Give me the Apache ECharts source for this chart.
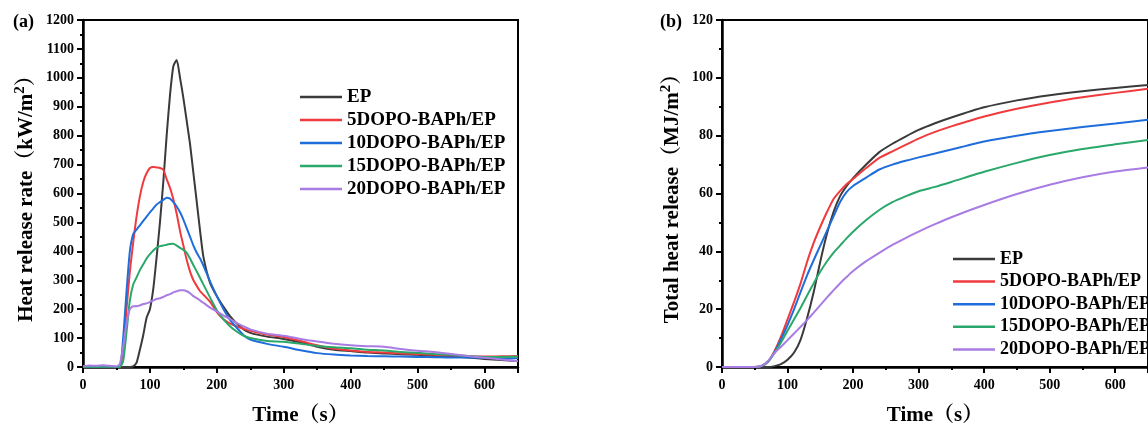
<!DOCTYPE html>
<html>
<head>
<meta charset="utf-8">
<script src="https://cdn.jsdelivr.net/npm/echarts@6/dist/echarts.min.js"></script>
<style>
  html, body { margin: 0; padding: 0; background: #fff; }
  #chart { width: 1148px; height: 431px; }
</style>
</head>
<body>
<div id="chart"></div>
<script>
// sample names and colours
const names = ['EP', '5DOPO-BAPh/EP', '10DOPO-BAPh/EP', '15DOPO-BAPh/EP', '20DOPO-BAPh/EP']
const colors = ['#3a3a3a', '#ef3a3e', '#1f6ddb', '#2aa86b', '#a87ce3']

// (a) heat release rate, kW/m2
const timeHRR = [0, 10, 20, 30, 40, 50, 55, 60, 65, 70, 75, 80, 85, 90, 95, 100, 105, 110, 115, 120, 125, 130, 135, 140, 145, 150, 155, 160, 165, 170, 175, 180, 190, 200, 210, 220, 230, 240, 250, 275, 300, 325, 350, 375, 400, 425, 450, 475, 500, 525, 550, 575, 600, 625, 650]
const hrrEP = [0, 2, 1, 3, 2, 0, 0, 0, 0, 0, 2, 15, 60, 110, 170, 200, 270, 380, 500, 640, 800, 940, 1040, 1062, 1000, 930, 850, 770, 670, 570, 470, 380, 290, 245, 208, 175, 150, 130, 118, 105, 97, 85, 70, 60, 55, 50, 47, 44, 42, 38, 36, 33, 28, 24, 20]
const hrr5 = [0, 1, 0, 2, 1, 0, 0, 60, 200, 330, 430, 520, 590, 640, 670, 688, 692, 690, 688, 682, 650, 620, 580, 530, 470, 420, 370, 330, 300, 280, 262, 250, 225, 190, 165, 150, 140, 132, 125, 112, 104, 90, 75, 63, 57, 52, 50, 47, 45, 42, 40, 38, 36, 37, 38]
const hrr10 = [0, 1, 0, 1, 1, 0, 0, 100, 260, 400, 460, 475, 490, 505, 520, 535, 548, 562, 570, 578, 585, 582, 570, 555, 535, 510, 480, 450, 420, 395, 375, 350, 295, 245, 200, 162, 135, 110, 95, 80, 70, 58, 48, 43, 40, 38, 37, 36, 35, 34, 33, 33, 32, 31, 30]
const hrr15 = [0, 1, 0, 1, 1, 0, 0, 20, 120, 230, 285, 310, 335, 355, 375, 390, 403, 413, 418, 420, 423, 425, 426, 420, 412, 405, 395, 375, 352, 330, 308, 285, 240, 196, 165, 140, 122, 108, 100, 90, 87, 80, 73, 68, 65, 60, 57, 52, 49, 45, 42, 38, 35, 35, 36]
const hrr20 = [3, 5, 4, 6, 4, 2, 10, 70, 150, 200, 210, 210, 213, 218, 220, 225, 230, 235, 238, 242, 248, 252, 258, 262, 265, 265, 262, 255, 245, 238, 230, 222, 205, 192, 178, 166, 152, 140, 130, 115, 108, 97, 88, 80, 75, 72, 70, 62, 56, 52, 45, 38, 32, 26, 20]

// (b) total heat release, MJ/m2
const timeTHR = [0, 20, 40, 50, 60, 70, 80, 90, 100, 110, 120, 130, 140, 150, 160, 170, 180, 190, 200, 220, 240, 260, 280, 300, 325, 350, 400, 450, 500, 550, 600, 650]
const thrEP = [0, 0, 0, 0, 0, 0, 0.3, 1, 2.5, 5, 9.5, 17, 26, 36.5, 46, 53.5, 59, 62.5, 65.3, 70, 74.3, 77.2, 79.7, 82, 84.3, 86.3, 89.8, 92.2, 94, 95.4, 96.5, 97.5]
const thr5 = [0, 0, 0, 0, 0.3, 1.8, 5.5, 10.5, 16.5, 22.5, 29, 36.5, 43, 48.5, 53.5, 58, 60.8, 63.2, 65, 68.8, 72.3, 74.6, 76.8, 79, 81.3, 83.2, 86.6, 89.3, 91.5, 93.3, 94.8, 96.2]
const thr10 = [0, 0, 0, 0, 0.3, 1.8, 5, 9.5, 14.5, 20, 26, 31.8, 37, 42, 47, 52, 57, 60.5, 62.6, 65.5, 68.3, 70, 71.3, 72.5, 73.8, 75.2, 78, 80, 81.6, 83, 84.2, 85.5]
const thr15 = [0, 0, 0, 0, 0.3, 1.8, 4.8, 8.5, 12.5, 16.5, 20.5, 24.8, 29, 33, 36.5, 39.5, 42, 44.5, 46.8, 50.8, 54.3, 57, 59, 60.8, 62.3, 64, 67.5, 70.6, 73.3, 75.4, 77, 78.5]
const thr20 = [0, 0, 0, 0, 0.4, 2, 4.8, 7, 9.3, 11.6, 13.9, 16.3, 18.8, 21.4, 24, 26.5, 28.9, 31.1, 33.2, 36.6, 39.5, 42.2, 44.6, 46.8, 49.4, 51.8, 56, 59.8, 63, 65.6, 67.6, 69]

const hrrList = [hrrEP, hrr5, hrr10, hrr15, hrr20]
const thrList = [thrEP, thr5, thr10, thr15, thr20]

const serif = "'Liberation Serif', 'Times New Roman', 'Noto Serif CJK SC', 'Noto Sans CJK SC', serif"
const black = '#000'

const chart = echarts.init(document.getElementById('chart'))

const makeXAxis = (gridIndex) => ({
  type: 'value',
  gridIndex,
  min: 0,
  max: 650,
  interval: 100,
  name: 'Time（s）',
  nameLocation: 'middle',
  nameGap: 38,
  nameTextStyle: { color: black, fontFamily: serif, fontWeight: 'bold', fontSize: 21 },
  axisLine: { lineStyle: { color: black, width: 2.5 } },
  axisTick: { length: 6, lineStyle: { color: black, width: 2 } },
  minorTick: { show: true, splitNumber: 2, length: 3, lineStyle: { color: black, width: 2 } },
  axisLabel: { color: black, fontFamily: serif, fontWeight: 'bold', fontSize: 14, margin: 11, showMaxLabel: false, formatter: v => String(v) },
  splitLine: { show: false }
})

const makeYAxis = (gridIndex, max, interval, name, gap) => ({
  type: 'value',
  gridIndex,
  min: 0,
  max,
  interval,
  name,
  nameLocation: 'middle',
  nameGap: gap,
  nameTextStyle: {
    color: black, fontFamily: serif, fontWeight: 'bold', fontSize: 21,
    rich: {
      a: { color: black, fontFamily: serif, fontWeight: 'bold', fontSize: 21, lineHeight: 24, verticalAlign: 'bottom' },
      s: { color: black, fontFamily: serif, fontWeight: 'bold', fontSize: 15, lineHeight: 24, verticalAlign: 'top' }
    }
  },
  axisLine: { show: true, lineStyle: { color: black, width: 2.5 } },
  axisTick: { length: 6, lineStyle: { color: black, width: 2 } },
  minorTick: { show: true, splitNumber: 2, length: 3, lineStyle: { color: black, width: 2 } },
  axisLabel: { color: black, fontFamily: serif, fontWeight: 'bold', fontSize: 14, margin: 9, formatter: v => String(v) },
  splitLine: { show: false }
})

const makeSeries = (times, list, idx) => list.map((vals, i) => ({
  name: names[i],
  type: 'line',
  xAxisIndex: idx,
  yAxisIndex: idx,
  data: times.map((t, k) => [t, vals[k]]),
  showSymbol: false,
  smooth: 0.2,
  lineStyle: { color: colors[i], width: 2 },
  itemStyle: { color: colors[i] }
}))

const legendBase = {
  orient: 'vertical',
  icon: 'rect',
  itemWidth: 42,
  itemHeight: 2.5,
  data: names,
  selectedMode: false
}

chart.setOption({
  animation: false,
  backgroundColor: '#fff',
  grid: [
    { left: 83, top: 20, width: 435, height: 351, show: true, borderColor: black, borderWidth: 2 },
    { left: 722, top: 20, width: 434, height: 351, show: true, borderColor: black, borderWidth: 2 }
  ],
  xAxis: [makeXAxis(0), makeXAxis(1)],
  yAxis: [
    makeYAxis(0, 1200, 100, '{a|Heat release rate（kW/m}{s|2}{a|）}', 46),
    makeYAxis(1, 120, 20, '{a|Total heat release（MJ/m}{s|2}{a|）}', 39)
  ],
  legend: [
    { ...legendBase, left: 295, top: 82, itemGap: 3,
      textStyle: { color: black, fontFamily: serif, fontWeight: 'bold', fontSize: 19, lineHeight: 20 } },
    { ...legendBase, left: 948, top: 244, itemGap: 2.6,
      textStyle: { color: black, fontFamily: serif, fontWeight: 'bold', fontSize: 18, lineHeight: 20 } }
  ],
  graphic: [
    { type: 'text', left: 13, top: 13, style: { text: '(a)', fill: black, font: 'bold 18px ' + serif } },
    { type: 'text', left: 660, top: 13, style: { text: '(b)', fill: black, font: 'bold 18px ' + serif } }
  ],
  series: [...makeSeries(timeHRR, hrrList, 0), ...makeSeries(timeTHR, thrList, 1)]
})
</script>
</body>
</html>
